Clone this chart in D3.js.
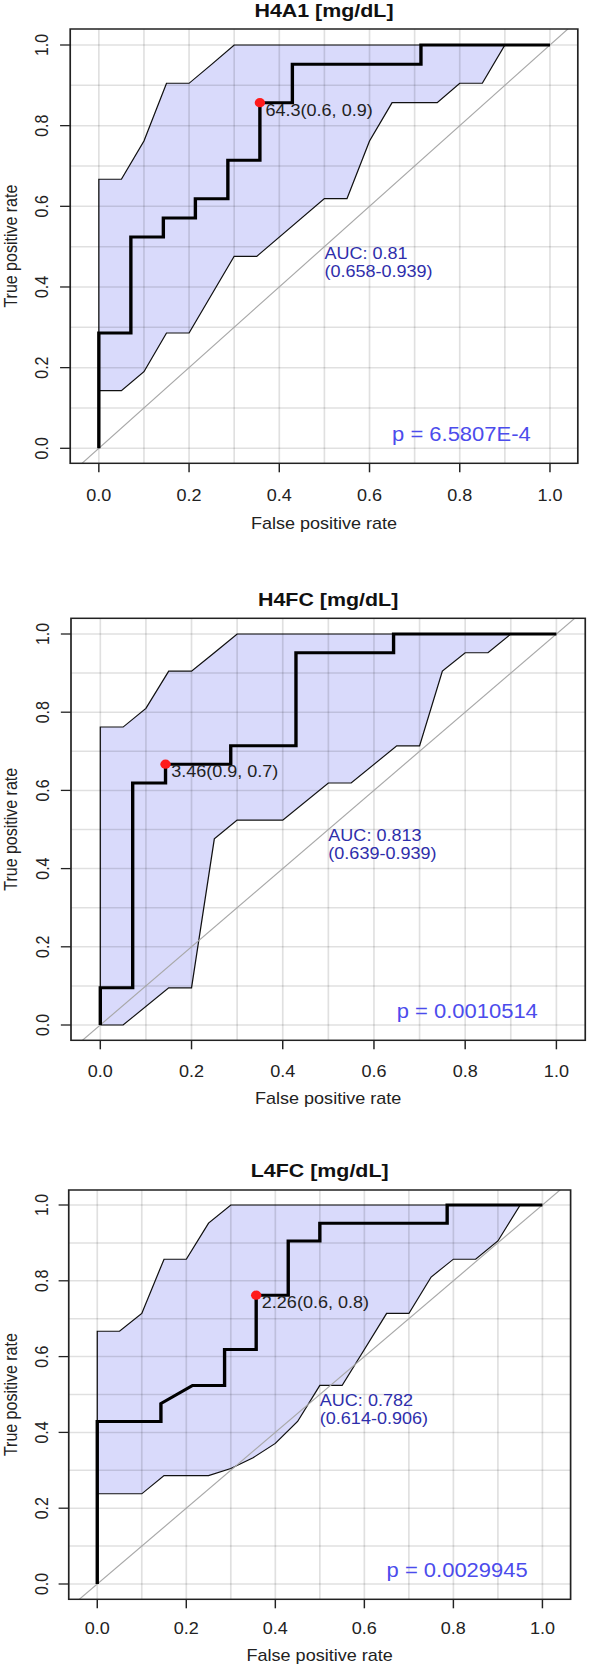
<!DOCTYPE html>
<html>
<head>
<meta charset="utf-8">
<script src="https://cdn.jsdelivr.net/npm/d3@7"></script>
<style>
  body { margin: 0; background: #fff; }
  svg text { font-family: "Liberation Sans", Arial, sans-serif; }
</style>
</head>
<body>
<svg id="roc_svg"></svg>
<script>
// ---- data ----
const panelTitles = ["H4A1 [mg/dL]", "H4FC [mg/dL]", "L4FC [mg/dL]"];
const axisTicks = [0, 0.2, 0.4, 0.6, 0.8, 1.0];
const gridTicks = [0, 0.1, 0.2, 0.3, 0.4, 0.5, 0.6, 0.7, 0.8, 0.9, 1.0];

// H4A1
const h4a1Fpr = [0, 0, 0.071, 0.071, 0.143, 0.143, 0.214, 0.214, 0.286, 0.286, 0.357, 0.357, 0.429, 0.429, 0.714, 0.714, 1.0];
const h4a1Tpr = [0, 0.286, 0.286, 0.524, 0.524, 0.571, 0.571, 0.619, 0.619, 0.714, 0.714, 0.857, 0.857, 0.952, 0.952, 1.0, 1.0];
const h4a1UpperFpr = [0, 0.05, 0.1, 0.15, 0.2, 0.25, 0.3, 0.9];
const h4a1UpperTpr = [0.667, 0.667, 0.762, 0.905, 0.905, 0.952, 1.0, 1.0];
const h4a1LowerFpr = [0.9, 0.85, 0.8, 0.75, 0.65, 0.6, 0.55, 0.5, 0.35, 0.3, 0.2, 0.15, 0.1, 0.05, 0];
const h4a1LowerTpr = [1.0, 0.905, 0.905, 0.857, 0.857, 0.762, 0.619, 0.619, 0.476, 0.476, 0.286, 0.286, 0.190, 0.143, 0.143];
const h4a1Best = [0.357, 0.857];

// H4FC
const h4fcFpr = [0, 0, 0.071, 0.071, 0.143, 0.143, 0.286, 0.286, 0.429, 0.429, 0.643, 0.643, 1.0];
const h4fcTpr = [0, 0.095, 0.095, 0.619, 0.619, 0.667, 0.667, 0.714, 0.714, 0.952, 0.952, 1.0, 1.0];
const h4fcUpperFpr = [0, 0.05, 0.1, 0.15, 0.2, 0.25, 0.3, 0.9];
const h4fcUpperTpr = [0.762, 0.762, 0.810, 0.905, 0.905, 0.952, 1.0, 1.0];
const h4fcLowerFpr = [0.9, 0.85, 0.8, 0.75, 0.7, 0.65, 0.55, 0.5, 0.4, 0.3, 0.25, 0.2, 0.15, 0.05, 0];
const h4fcLowerTpr = [1.0, 0.952, 0.952, 0.905, 0.714, 0.714, 0.619, 0.619, 0.524, 0.524, 0.476, 0.095, 0.095, 0, 0];
const h4fcBest = [0.143, 0.667];

// L4FC
const l4fcFpr = [0, 0, 0.143, 0.143, 0.214, 0.286, 0.286, 0.357, 0.357, 0.429, 0.429, 0.5, 0.5, 0.786, 0.786, 1.0];
const l4fcTpr = [0, 0.429, 0.429, 0.476, 0.524, 0.524, 0.619, 0.619, 0.762, 0.762, 0.905, 0.905, 0.952, 0.952, 1.0, 1.0];
const l4fcUpperFpr = [0, 0.05, 0.1, 0.15, 0.2, 0.25, 0.3, 0.95];
const l4fcUpperTpr = [0.667, 0.667, 0.714, 0.857, 0.857, 0.952, 1.0, 1.0];
const l4fcLowerFpr = [0.95, 0.9, 0.85, 0.8, 0.75, 0.7, 0.65, 0.6, 0.55, 0.5, 0.45, 0.4, 0.35, 0.3, 0.25, 0.2, 0.15, 0.1, 0];
const l4fcLowerTpr = [1.0, 0.905, 0.857, 0.857, 0.810, 0.714, 0.714, 0.619, 0.524, 0.524, 0.429, 0.371, 0.333, 0.305, 0.286, 0.286, 0.286, 0.238, 0.238];
const l4fcBest = [0.357, 0.762];

const thresholdLabels = ["64.3(0.6, 0.9)", "3.46(0.9, 0.7)", "2.26(0.6, 0.8)"];
const aucLabels = ["AUC: 0.81", "AUC: 0.813", "AUC: 0.782"];
const aucCiLabels = ["(0.658-0.939)", "(0.639-0.939)", "(0.614-0.906)"];
const pLabels = ["p = 6.5807E-4", "p = 0.0010514", "p = 0.0029945"];

// ---- page layout ----
// the source picture is stretched sideways, so panels are laid out in an
// unstretched frame and the whole drawing is scaled by stretchX
const W = 589, H = 1666;
const stretchX = 1.127;
const layouts = [
    { left: 62.3, right: 512.7, top: 29, bottom: 463.3, x0: 87.7, x1: 488, y0: 448.3, y1: 45, tickY: 500.7, labelY: 529, yTickX: 42.7 },
    { left: 63, right: 519.3, top: 618.3, bottom: 1040.3, x0: 89, x1: 493.7, y0: 1025, y1: 634, tickY: 1076.7, labelY: 1104, yTickX: 43.3 },
    { left: 61, right: 506.3, top: 1190, bottom: 1599.3, x0: 86.3, x1: 481.3, y0: 1584, y1: 1205, tickY: 1634, labelY: 1660.7, yTickX: 42.3 }
];

const panels = [
    { fpr: h4a1Fpr, tpr: h4a1Tpr, upF: h4a1UpperFpr, upT: h4a1UpperTpr, loF: h4a1LowerFpr, loT: h4a1LowerTpr, best: h4a1Best },
    { fpr: h4fcFpr, tpr: h4fcTpr, upF: h4fcUpperFpr, upT: h4fcUpperTpr, loF: h4fcLowerFpr, loT: h4fcLowerTpr, best: h4fcBest },
    { fpr: l4fcFpr, tpr: l4fcTpr, upF: l4fcUpperFpr, upT: l4fcUpperTpr, loF: l4fcLowerFpr, loT: l4fcLowerTpr, best: l4fcBest }
];

const svg = d3.select("#roc_svg").attr("width", W).attr("height", H);
svg.append("rect").attr("width", W).attr("height", H).attr("fill", "#fff");
const root = svg.append("g").attr("transform", `scale(${stretchX},1)`);

function drawRoc(i) {
    const L = layouts[i];
    const p = panels[i];
    const x = d3.scaleLinear().domain([0, 1]).range([L.x0, L.x1]);
    const y = d3.scaleLinear().domain([0, 1]).range([L.y0, L.y1]);
    const g = root.append("g");

    const clipId = "clip" + i;
    g.append("clipPath").attr("id", clipId)
        .append("rect")
        .attr("x", L.left).attr("y", L.top)
        .attr("width", L.right - L.left).attr("height", L.bottom - L.top);

    const inner = g.append("g").attr("clip-path", `url(#${clipId})`);

    // confidence band: upper edge then lower edge back
    const band = p.upF.map((f, k) => [f, p.upT[k]])
        .concat(p.loF.map((f, k) => [f, p.loT[k]]));
    inner.append("path")
        .attr("d", d3.line().x(d => x(d[0])).y(d => y(d[1]))(band) + "Z")
        .attr("fill", "#d9dafb")
        .attr("stroke", "#111")
        .attr("stroke-width", 1.1);

    // grid at 0.1 steps
    inner.append("g").selectAll("line").data(gridTicks).join("line")
        .attr("x1", d => x(d)).attr("x2", d => x(d))
        .attr("y1", L.top).attr("y2", L.bottom)
        .attr("stroke", "rgba(0,0,0,0.12)").attr("stroke-width", 1.5);
    inner.append("g").selectAll("line").data(gridTicks).join("line")
        .attr("y1", d => y(d)).attr("y2", d => y(d))
        .attr("x1", L.left).attr("x2", L.right)
        .attr("stroke", "rgba(0,0,0,0.12)").attr("stroke-width", 1.5);

    // chance diagonal
    inner.append("line")
        .attr("x1", x(-0.2)).attr("y1", y(-0.2))
        .attr("x2", x(1.2)).attr("y2", y(1.2))
        .attr("stroke", "#a8a8a8").attr("stroke-width", 1.1);

    // ROC curve
    const roc = p.fpr.map((f, k) => [f, p.tpr[k]]);
    inner.append("path")
        .attr("d", d3.line().x(d => x(d[0])).y(d => y(d[1]))(roc))
        .attr("fill", "none")
        .attr("stroke", "#000")
        .attr("stroke-width", 3)
        .attr("stroke-linejoin", "miter");

    // best threshold
    inner.append("circle")
        .attr("cx", x(p.best[0])).attr("cy", y(p.best[1]))
        .attr("r", 4.6).attr("fill", "#ff1a1a");
    g.append("text")
        .attr("x", x(p.best[0]) + 5).attr("y", y(p.best[1]) + 13)
        .attr("font-size", 16).attr("fill", "#222")
        .text(thresholdLabels[i]);

    // AUC text
    g.append("text")
        .attr("x", x(0.5)).attr("y", y(0.47))
        .attr("font-size", 16).attr("fill", "#2e2eab")
        .text(aucLabels[i]);
    g.append("text")
        .attr("x", x(0.5)).attr("y", y(0.47) + 18)
        .attr("font-size", 16).attr("fill", "#2e2eab")
        .text(aucCiLabels[i]);

    // p value
    g.append("text")
        .attr("x", x(0.65)).attr("y", L.y0 - 7)
        .attr("font-family", "'Open Sans', 'Noto Sans', sans-serif")
        .attr("font-size", 19.5).attr("fill", "#4c4cec")
        .text(pLabels[i]);

    // box
    g.append("rect")
        .attr("x", L.left).attr("y", L.top)
        .attr("width", L.right - L.left).attr("height", L.bottom - L.top)
        .attr("fill", "none").attr("stroke", "#222").attr("stroke-width", 1.5);

    // x axis ticks + labels
    g.append("g").selectAll("line").data(axisTicks).join("line")
        .attr("x1", d => x(d)).attr("x2", d => x(d))
        .attr("y1", L.bottom).attr("y2", L.bottom + 9)
        .attr("stroke", "#222").attr("stroke-width", 1.3);
    g.append("g").selectAll("text").data(axisTicks).join("text")
        .attr("x", d => x(d)).attr("y", L.tickY)
        .attr("text-anchor", "middle").attr("font-size", 16).attr("fill", "#222")
        .text(d => d.toFixed(1));

    // y axis ticks + labels
    g.append("g").selectAll("line").data(axisTicks).join("line")
        .attr("y1", d => y(d)).attr("y2", d => y(d))
        .attr("x1", L.left).attr("x2", L.left - 9)
        .attr("stroke", "#222").attr("stroke-width", 1.3);
    g.append("g").selectAll("text").data(axisTicks).join("text")
        .attr("transform", d => `translate(${L.yTickX},${y(d)}) rotate(-90)`)
        .attr("text-anchor", "middle").attr("font-size", 16).attr("fill", "#222")
        .text(d => d.toFixed(1));

    const cx = (L.left + L.right) / 2;
    const cy = (L.top + L.bottom) / 2;

    // titles
    g.append("text")
        .attr("x", cx).attr("y", L.top - 12.5)
        .attr("text-anchor", "middle").attr("font-size", 19).attr("font-weight", "bold").attr("fill", "#111")
        .text(panelTitles[i]);
    g.append("text")
        .attr("x", cx).attr("y", L.labelY)
        .attr("text-anchor", "middle").attr("font-size", 16).attr("fill", "#222")
        .text("False positive rate");
    g.append("text")
        .attr("transform", `translate(15,${cy}) rotate(-90)`)
        .attr("text-anchor", "middle").attr("font-size", 16).attr("fill", "#222")
        .text("True positive rate");
}

panels.forEach((d, i) => drawRoc(i));
</script>
</body>
</html>
